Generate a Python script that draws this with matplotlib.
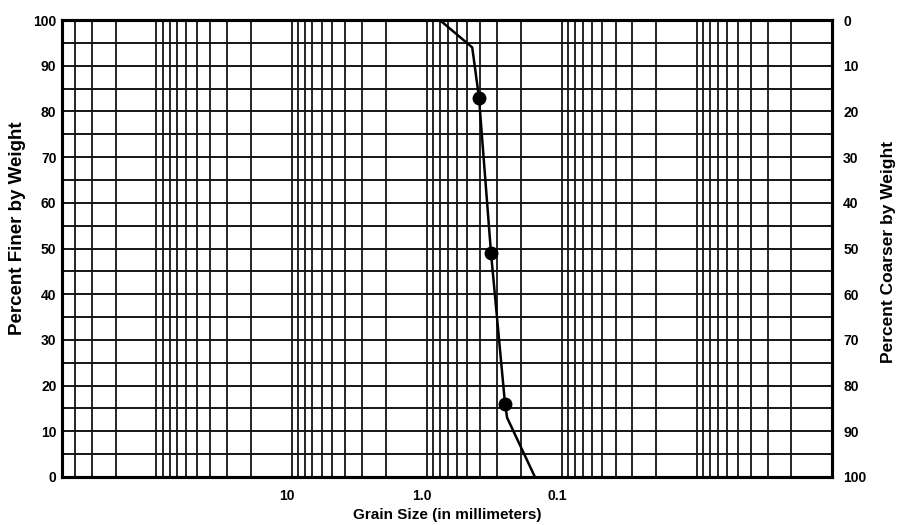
import matplotlib
matplotlib.use("Agg")
import matplotlib.pyplot as plt
import matplotlib.transforms as mtransforms
from matplotlib.ticker import FixedLocator, NullFormatter

plt.rcParams['font.family'] = ['Liberation Sans', 'DejaVu Sans']

# Data (grain size in mm, percent finer by weight)
grain_size = [0.80, 0.46, 0.41, 0.334, 0.263, 0.254, 0.158]
percent_finer = [100, 94, 83, 49, 16, 13, 0]
# sample points marked with dots
dot_size = [0.41, 0.334, 0.263]
dot_finer = [83, 49, 16]

x_tick_values = [10, 1.0, 0.1]
x_tick_labels = ["10", "1.0", "0.1"]
y_ticks = list(range(0, 101, 10))
y_grid = list(range(0, 101, 5))

fig = plt.figure(figsize=(8.98, 5.25), dpi=100)
ax = fig.add_axes([62/898, 1-477/525, 770/898, 457/525])

ax.set_xscale('log')
ax.set_xlim(500, 0.001)
ax.set_ylim(0, 100)

# log grid lines: 1..9 per decade
minor = []
for e in range(-3, 3):
    for m in range(1, 10):
        v = m * 10.0**e
        if 0.001 <= v <= 500:
            minor.append(v)
for v in minor:
    ax.axvline(v, color='#151515', lw=1.3, zorder=1)
for y in y_grid:
    ax.axhline(y, color='#151515', lw=1.4, zorder=1)

ax.plot(grain_size, percent_finer, color='black', lw=1.8, zorder=3)
ax.plot(dot_size, dot_finer, 'o', color='black', ms=9, zorder=4)

ax.xaxis.set_major_locator(FixedLocator(x_tick_values))
ax.xaxis.set_minor_locator(FixedLocator([]))
ax.xaxis.set_minor_formatter(NullFormatter())
ax.set_xticks(x_tick_values)
ax.set_xticklabels(x_tick_labels)
ax.set_yticks(y_ticks)
ax.set_yticklabels([str(t) for t in y_ticks])
ax.tick_params(axis='both', length=0, labelsize=10, pad=4)
ax.tick_params(axis='x', pad=9)
shift = mtransforms.ScaledTranslation(-5/100, 0, fig.dpi_scale_trans)
for lab in ax.get_xticklabels():
    lab.set_transform(lab.get_transform() + shift)
    lab.set_fontweight('bold')
for lab in ax.get_yticklabels():
    lab.set_fontweight('bold')

for s in ax.spines.values():
    s.set_linewidth(2.2)
    s.set_color('black')

ax.set_xlabel("Grain Size (in millimeters)", fontsize=11, fontweight='bold', labelpad=3)

ax2 = ax.twinx()
ax2.set_ylim(100, 0)
ax2.set_yticks(y_ticks)
ax2.set_yticklabels([str(t) for t in y_ticks])
ax2.tick_params(axis='y', length=0, labelsize=10, pad=8)
for lab in ax2.get_yticklabels():
    lab.set_fontweight('bold')
for s in ax2.spines.values():
    s.set_linewidth(2.2)

fig.text(18/898, 1-228/525, "Percent Finer by Weight", rotation=90, fontsize=13.5,
         fontweight='bold', ha='center', va='center')
fig.text(888/898, 1-252/525, "Percent Coarser by Weight", rotation=90, fontsize=12.5,
         fontweight='bold', ha='center', va='center')

fig.savefig("out.png", dpi=100)
